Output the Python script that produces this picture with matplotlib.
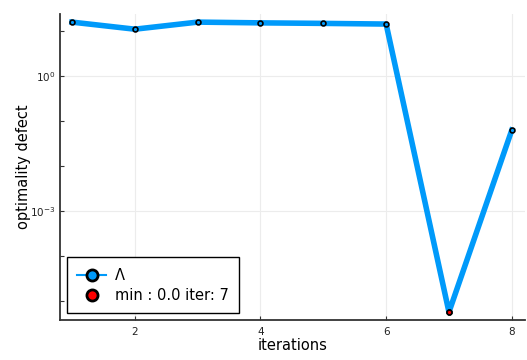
import numpy as np
import matplotlib
matplotlib.use("Agg")
import matplotlib.pyplot as plt
from matplotlib.lines import Line2D

# data
iterations = [1, 2, 3, 4, 5, 6, 7, 8]
defect = [15.8, 11.0, 15.8, 15.2, 14.8, 14.3, 5.7e-6, 0.063]
min_iter = 7
min_value = 5.7e-6

blue = "#009AFA"

fig = plt.figure(figsize=(5.27, 3.6), dpi=100)
ax = fig.add_axes([0.1139, 0.1111, 0.8823, 0.8499])

ax.plot(iterations, defect, color=blue, lw=4, zorder=2)
ax.plot(iterations, defect, "o", ms=3.5, mfc=blue, mec="black", mew=1.2, zorder=3)
ax.plot([min_iter], [min_value], "o", ms=3.5, mfc="red", mec="black", mew=1.2, zorder=4)

ax.set_yscale("log")
ax.set_xlim(0.81, 8.21)
ax.set_ylim(10 ** -5.42, 10 ** 1.378)

ax.set_xticks([2, 4, 6, 8])
ax.set_yticks([1e0, 1e-3])
ax.set_yticklabels([r"$10^{0}$", r"$10^{-3}$"])
ax.set_yticks([10.0 ** k for k in [1, -1, -2, -4, -5]], minor=True)
ax.yaxis.set_minor_formatter(matplotlib.ticker.NullFormatter())
ax.xaxis.set_minor_locator(matplotlib.ticker.NullLocator())

ax.grid(True, which="major", color="#ececec", lw=0.8)
ax.set_axisbelow(True)
for s in ["top", "right"]:
    ax.spines[s].set_visible(False)
for s in ["left", "bottom"]:
    ax.spines[s].set_color("#333333")
    ax.spines[s].set_linewidth(1.3)
ax.tick_params(axis="both", which="both", direction="in", length=3, width=0.8,
               color="#333333", labelsize=7.5, labelcolor="#222222")
ax.tick_params(axis="x", pad=5)

ax.set_xlabel("iterations", fontsize=10.5, labelpad=1)
ax.set_ylabel("optimality defect", fontsize=10.5, labelpad=-1)

handles = [
    Line2D([0], [0], color=blue, lw=1.5, marker="o", ms=8, mfc=blue, mec="black", mew=2),
    Line2D([0], [0], lw=0, marker="o", ms=8, mfc="red", mec="black", mew=2),
]
leg = ax.legend(handles, ["Λ", "min : 0.0 iter: 7"], loc="lower left",
                bbox_to_anchor=(0.015, 0.023), borderaxespad=0, fontsize=10.5,
                fancybox=False, edgecolor="black", framealpha=1, handlelength=2.0,
                handletextpad=0.6, borderpad=0.7, labelspacing=0.35)
leg.get_frame().set_linewidth(1.0)

fig.savefig("out.png", dpi=100)
